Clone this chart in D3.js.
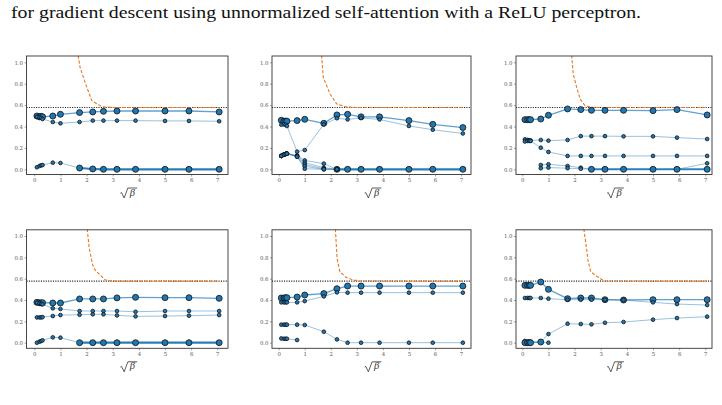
<!DOCTYPE html>
<html lang="en">
<head>
    <meta charset="UTF-8">
    <title>sqrt beta panels</title>
    <script src="https://cdn.jsdelivr.net/npm/d3@7"></script>
    <style>
      body { margin: 0; background: #fff; }
      svg text { font-family: "Liberation Serif", "DejaVu Serif", serif; }
    </style>
</head>
<body>
<div class="chart"></div>
<script>
  // x positions: sqrt(beta) for the betas that were run
  const betas = [0.01, 0.04, 0.07, 0.1, 0.5, 1, 3, 5, 7, 10, 15, 25, 35, 50];
  const xTicks = [0, 1, 2, 3, 4, 5, 6, 7];
  const yTicks = [0, 0.2, 0.4, 0.6, 0.8, 1.0];
  const limit = 0.577; // dotted level, 1/sqrt(3)
  const N = null;

  // panel 1
  const p1a = [0.498, 0.49, 0.495, 0.49, 0.498, 0.514, 0.53, 0.536, 0.542, 0.545, 0.545, 0.545, 0.545, 0.536];
  const p1b = [0.49, 0.485, 0.48, 0.47, 0.442, 0.43, 0.442, 0.455, 0.455, 0.455, 0.455, 0.452, 0.452, 0.449];
  const p1c = [0.019, 0.031, 0.037, 0.04, 0.062, 0.059, 0.012, 0.003, 0, 0, 0, 0, 0, 0];
  const p1cMult = [1, 1, 1, 1, 1, 1, 5, 5, 5, 5, 5, 5, 5, 5];
  const p1Bound = [[1.6, 1.25], [1.68, 1.06], [1.75, 0.953], [1.94, 0.813], [2.2, 0.641], [2.58, 0.585], [3.0, 0.577], [7.07, 0.577]];

  // panel 2
  const p2a = [0.458, 0.45, 0.45, 0.45, 0.455, 0.467, 0.43, 0.508, 0.514, 0.49, 0.49, 0.455, 0.42, 0.39];
  const p2b = [0.417, 0.42, 0.417, 0.405, 0.165, 0.18, 0.42, 0.477, 0.466, 0.48, 0.466, 0.405, 0.37, 0.335];
  const p2c = [0.125, 0.137, 0.143, 0.146, 0.13, 0.083, 0.053, 0, 0, 0, 0, 0, 0, 0];
  const p2cMult = [1, 1, 1, 1, 1, 1, 1, 5, 5, 5, 5, 5, 5, 5];
  const p2d = [0.125, 0.137, 0.143, 0.146, 0.125, 0.062, 0.015, 0, N, N, N, N, N, N];
  const p2e = [0.125, 0.137, 0.143, 0.146, 0.12, 0.045, 0.005, 0, N, N, N, N, N, N];
  const p2f = [0.125, 0.137, 0.143, 0.146, 0.118, 0.028, 0, 0, N, N, N, N, N, N];
  const p2g = [0.125, 0.137, 0.143, 0.146, 0.118, 0.005, 0, 0, N, N, N, N, N, N];
  const p2Bound = [[1.6, 1.3], [1.65, 1.06], [1.71, 0.86], [1.97, 0.704], [2.23, 0.61], [2.55, 0.585], [3.0, 0.577], [7.07, 0.577]];

  // panel 3
  const p3a = [0.464, 0.464, 0.464, 0.464, 0.47, 0.505, 0.564, 0.558, 0.551, 0.551, 0.551, 0.548, 0.558, 0.508];
  const p3b = [0.28, 0.275, 0.27, 0.27, 0.274, 0.268, 0.274, 0.31, 0.31, 0.31, 0.308, 0.308, 0.296, 0.283];
  const p3c = [0.26, 0.265, 0.265, 0.265, 0.202, 0.162, 0.125, 0.125, 0.125, 0.125, 0.125, 0.125, 0.125, 0.125];
  const p3d = [N, N, N, N, 0.04, 0.047, 0.031, 0.015, 0, 0, 0, 0, 0, 0.056];
  const p3e = [N, N, N, N, 0.01, 0.016, 0.01, 0.005, 0, 0, 0, 0, 0, 0];
  const p3eMult = [1, 1, 1, 1, 1, 1, 1, 1, 4, 4, 4, 4, 4, 4];
  const p3Bound = [[1.85, 1.3], [1.89, 1.06], [1.95, 0.891], [2.08, 0.766], [2.21, 0.657], [2.4, 0.594], [2.66, 0.579], [3.0, 0.577], [7.07, 0.577]];

  // panel 4
  const p4a = [0.378, 0.375, 0.372, 0.375, 0.372, 0.372, 0.41, 0.41, 0.41, 0.42, 0.425, 0.422, 0.422, 0.416];
  const p4b = [0.375, 0.37, 0.365, 0.36, 0.322, 0.316, 0.297, 0.297, 0.297, 0.297, 0.29, 0.297, 0.297, 0.297];
  const p4c = [0.237, 0.237, 0.237, 0.24, 0.25, 0.259, 0.262, 0.266, 0.266, 0.256, 0.247, 0.25, 0.253, 0.259];
  const p4d = [0, 0.01, 0.016, 0.022, 0.05, 0.047, 0, 0, 0, 0, 0, 0, 0, 0];
  const p4dMult = [1, 1, 1, 1, 1, 1, 5, 5, 5, 5, 5, 5, 5, 5];
  const p4Bound = [[1.98, 1.3], [2.03, 1.05], [2.1, 0.888], [2.23, 0.731], [2.32, 0.684], [2.51, 0.637], [2.7, 0.59], [2.9, 0.581], [3.1, 0.577], [7.07, 0.577]];

  // panel 5
  const p5a = [0.419, 0.419, 0.422, 0.422, 0.428, 0.447, 0.46, 0.506, 0.531, 0.531, 0.531, 0.531, 0.531, 0.531];
  const p5b = [0.378, 0.378, 0.378, 0.378, 0.378, 0.39, 0.434, 0.472, 0.469, 0.469, 0.469, 0.469, 0.469, 0.469];
  const p5c = [0.169, 0.169, 0.169, 0.169, 0.169, 0.166, 0.103, 0.031, 0, 0, 0, 0, 0, 0];
  const p5d = [0.04, 0.037, 0.037, 0.037, 0.025, N, N, N, N, N, N, N, N, N];
  const p5Bound = [[2.15, 1.3], [2.18, 1.056], [2.24, 0.791], [2.35, 0.665], [2.58, 0.613], [2.86, 0.588], [3.12, 0.578], [7.07, 0.577]];

  // panel 6
  const p6a = [0.5375, 0.5375, 0.5375, 0.5375, 0.569, 0.5, 0.4125, 0.419, 0.419, 0.403, 0.4, 0.403, 0.403, 0.403];
  const p6b = [0.419, 0.419, 0.419, 0.419, 0.419, 0.4125, 0.403, 0.403, 0.403, 0.403, 0.4, 0.378, 0.362, 0.353];
  const p6c = [0.016, 0.009, 0.009, 0.009, 0.006, 0.081, 0.178, 0.175, 0.172, 0.187, 0.194, 0.216, 0.231, 0.244];
  const p6d = [0, 0, 0, 0, 0.006, 0, N, N, N, N, N, N, N, N];
  const p6dMult = [2, 2, 2, 2, 2, 1, 1, 1, 1, 1, 1, 1, 1, 1];
  const p6Bound = [[2.33, 1.3], [2.36, 1.056], [2.44, 0.916], [2.52, 0.759], [2.62, 0.665], [2.78, 0.634], [2.97, 0.604], [3.13, 0.578], [7.07, 0.577]];

  const panels = [
    { row: 0, col: 0, bound: p1Bound, series: [[p1a, 2], [p1b, 1], [p1c, p1cMult]] },
    { row: 0, col: 1, bound: p2Bound, series: [[p2a, 2], [p2b, 1], [p2c, p2cMult], [p2d, 1], [p2e, 1], [p2f, 1], [p2g, 1]] },
    { row: 0, col: 2, bound: p3Bound, series: [[p3a, 2], [p3b, 1], [p3c, 1], [p3d, 1], [p3e, p3eMult]] },
    { row: 1, col: 0, bound: p4Bound, series: [[p4a, 2], [p4b, 1], [p4c, 1], [p4d, p4dMult]] },
    { row: 1, col: 1, bound: p5Bound, series: [[p5a, 2], [p5b, 1], [p5c, 1], [p5d, 1]] },
    { row: 1, col: 2, bound: p6Bound, series: [[p6a, 2], [p6b, 1], [p6c, 1], [p6d, p6dMult]] }
  ];

  // panel frames measured off the page
  const cols = [
    { left: 26.5, right: 228, x0: 34.3, x7: 217.3 },
    { left: 272, right: 471, x0: 278.7, x7: 461 },
    { left: 516, right: 712, x0: 522.3, x7: 705.3 }
  ];
  const rows = [
    { top: 56, bottom: 174.5, y0: 169.3, y1: 62.3 },
    { top: 229.8, bottom: 348.3, y0: 342.7, y1: 236 }
  ];

  const blue = '#1f77b4', orange = '#e8781e';
  const rScale = d3.scaleLinear().domain([1, 2]).range([1.85, 3.0]).clamp(true);

  const svg = d3.select('.chart').append('svg').attr('width', 722).attr('height', 405);

  svg.append('text')
    .attr('x', 11).attr('y', 18)
    .attr('font-size', 17.5)
    .attr('fill', '#111')
    .attr('textLength', 630).attr('lengthAdjust', 'spacingAndGlyphs')
    .text('for gradient descent using unnormalized self-attention with a ReLU perceptron.');

  const xs = betas.map(b => Math.sqrt(b));

  panels.forEach((p, pi) => {
    const c = cols[p.col], r = rows[p.row];
    const x = d3.scaleLinear().domain([0, 7]).range([c.x0, c.x7]);
    const y = d3.scaleLinear().domain([0, 1]).range([r.y0, r.y1]);
    const g = svg.append('g');

    g.append('clipPath').attr('id', 'clip' + pi).append('rect')
      .attr('x', c.left).attr('y', r.top).attr('width', c.right - c.left).attr('height', r.bottom - r.top);

    // axes
    const yAxis = d3.axisLeft(y).tickValues(yTicks).tickSize(2).tickPadding(1.5).tickFormat(d3.format('.1f'));
    const xAxis = d3.axisBottom(x).tickValues(xTicks).tickSize(2).tickPadding(1.5).tickFormat(d3.format('d'));
    const ya = g.append('g').attr('transform', `translate(${c.left},0)`).call(yAxis);
    const xa = g.append('g').attr('transform', `translate(0,${r.bottom})`).call(xAxis);
    [ya, xa].forEach(a => {
      a.select('.domain').remove();
      a.selectAll('line').attr('stroke', '#666').attr('stroke-width', 0.6);
      a.selectAll('text').attr('font-size', 5.4).attr('fill', '#555')
        .style('font-family', '"DejaVu Serif", serif');
    });

    const plot = g.append('g').attr('clip-path', `url(#clip${pi})`);

    // trajectories, segment by segment
    const rows2 = p.series.map(([vals, mult]) => vals.map((v, i) => ({
      x: xs[i], v, m: Array.isArray(mult) ? mult[i] : mult
    })));
    rows2.forEach(pts => {
      for (let i = 0; i < pts.length - 1; i++) {
        const a = pts[i], b = pts[i + 1];
        if (a.v === null || b.v === null) continue;
        const m = Math.min(a.m, b.m);
        plot.append('line')
          .attr('x1', x(a.x)).attr('y1', y(a.v)).attr('x2', x(b.x)).attr('y2', y(b.v))
          .attr('stroke', blue)
          .attr('stroke-opacity', 1 - Math.pow(0.55, m))
          .attr('stroke-width', Math.min(2.2, 1 + 0.3 * (m - 1)));
      }
    });

    // level and bound curve
    plot.append('line')
      .attr('x1', c.left).attr('x2', c.right).attr('y1', y(limit)).attr('y2', y(limit))
      .attr('stroke', '#222').attr('stroke-width', 1.1).attr('stroke-dasharray', '1.1,1.3');
    plot.append('path')
      .datum(p.bound)
      .attr('d', d3.line().x(d => x(d[0])).y(d => y(d[1])))
      .attr('fill', 'none').attr('stroke', orange).attr('stroke-width', 1.1)
      .attr('stroke-dasharray', '3.2,1.8');

    // markers
    rows2.forEach(pts => {
      plot.selectAll(null).data(pts.filter(d => d.v !== null)).enter().append('circle')
        .attr('cx', d => x(d.x)).attr('cy', d => y(d.v))
        .attr('r', d => rScale(d.m))
        .attr('fill', blue).attr('stroke', '#111').attr('stroke-width', 0.8);
    });

    // frame
    g.append('rect')
      .attr('x', c.left).attr('y', r.top).attr('width', c.right - c.left).attr('height', r.bottom - r.top)
      .attr('fill', 'none').attr('stroke', '#333').attr('stroke-width', 0.9);

    // x label: sqrt(beta)
    const cx = (c.left + c.right) / 2 + 1.5, ty = r.bottom + 13.5;
    g.append('path')
      .attr('d', `M${cx - 8.4},${ty + 5.2} L${cx - 7.2},${ty + 4.6} L${cx - 4.6},${ty + 10} L${cx - 0.9},${ty} L${cx + 8.4},${ty}`)
      .attr('fill', 'none').attr('stroke', '#333').attr('stroke-width', 0.8);
    g.append('text')
      .attr('x', cx + 3.6).attr('y', ty + 7.6)
      .attr('text-anchor', 'middle').attr('font-size', 10.5).attr('font-style', 'italic')
      .attr('fill', '#333')
      .text('β');
  });
</script>
</body>
</html>
